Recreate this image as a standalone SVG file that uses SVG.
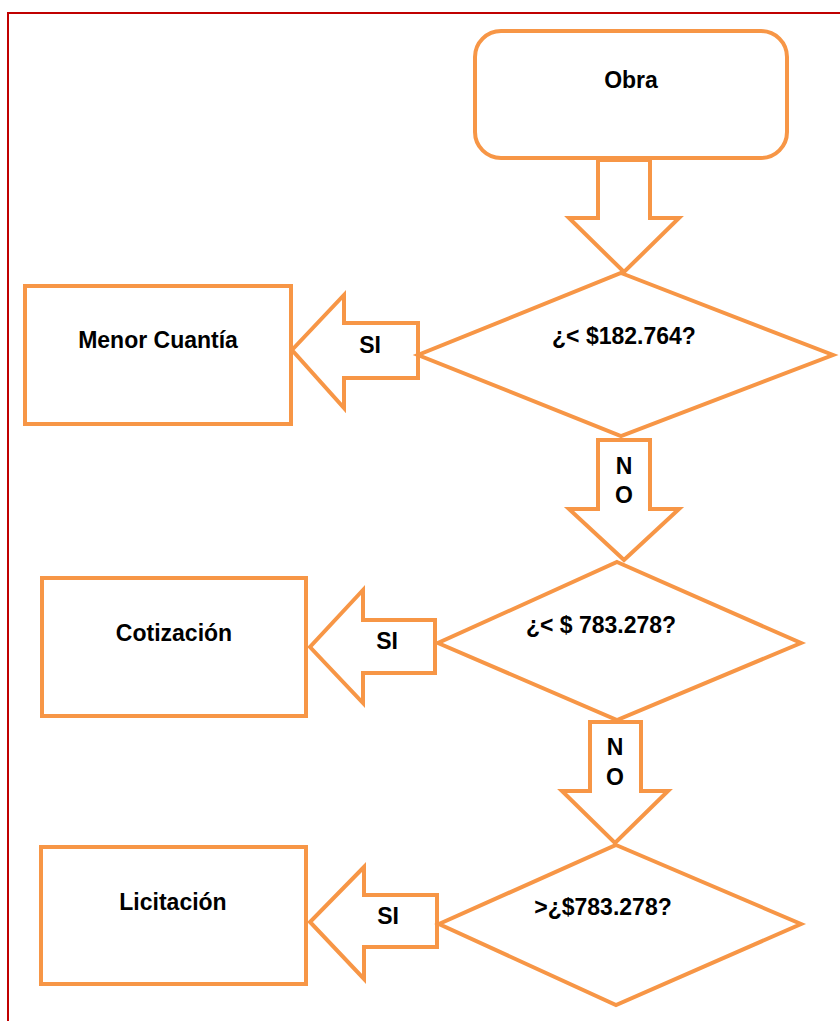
<svg xmlns="http://www.w3.org/2000/svg" width="840" height="1021" viewBox="0 0 840 1021">
  <style>
    .shape { fill: #ffffff; stroke: #f79646; stroke-width: 4; stroke-linejoin: miter; }
    .arrow { fill: #ffffff; stroke: #f79646; stroke-width: 4; stroke-linejoin: miter; stroke-miterlimit: 10; }
    .label { font-family: "Liberation Sans", Arial, sans-serif; font-weight: bold; font-size: 23px; fill: #000000; text-anchor: middle; }
  </style>
  <rect width="840" height="1021" fill="#ffffff"/>
  <!-- page frame -->
  <rect x="8" y="13" width="850" height="1030" fill="none" stroke="#c00000" stroke-width="2"/>

  <g id="connectors">
    <polygon class="arrow" points="598,160 650,160 650,218 679,218 624,272 569,218 598,218"/>
    <polygon class="arrow" points="418,323 344,323 344,295 292,350 344,408 344,378 418,378"/>
    <polygon class="arrow" points="598,440 650,440 650,509 679,509 624,560 569,509 598,509"/>
    <polygon class="arrow" points="435,620 363,620 363,590 310,647 363,703 363,673 435,673"/>
    <polygon class="arrow" points="590,722 641,722 641,791 668,791 615,843 562,791 590,791"/>
    <polygon class="arrow" points="437,895 364,895 364,867 310,922 364,979 364,947 437,947"/>
    <text class="label" x="370" y="353">SI</text>
    <text class="label" x="624" y="474">N</text>
    <text class="label" x="624" y="503">O</text>
    <text class="label" x="387" y="649">SI</text>
    <text class="label" x="615" y="755">N</text>
    <text class="label" x="615" y="785">O</text>
    <text class="label" x="388" y="924">SI</text>
  </g>

  <g id="obra">
    <rect class="shape" x="475" y="31" width="312" height="127" rx="26" ry="26"/>
    <text class="label" x="631" y="88">Obra</text>
  </g>

  <g id="decision-1">
    <polygon class="shape" points="621,273 833,355 621,436 418,355"/>
    <text class="label" x="624" y="344">¿&lt; $182.764?</text>
  </g>

  <g id="menor-cuantia">
    <rect class="shape" x="25" y="286" width="266" height="138"/>
    <text class="label" x="158" y="348">Menor Cuantía</text>
  </g>

  <g id="decision-2">
    <polygon class="shape" points="617,562 801,643 617,720 438,643"/>
    <text class="label" x="601" y="633">¿&lt; $ 783.278?</text>
  </g>

  <g id="cotizacion">
    <rect class="shape" x="42" y="578" width="264" height="138"/>
    <text class="label" x="174" y="641">Cotización</text>
  </g>

  <g id="decision-3">
    <polygon class="shape" points="616,845 801,924 616,1005 439,924"/>
    <text class="label" x="603" y="915">&gt;¿$783.278?</text>
  </g>

  <g id="licitacion">
    <rect class="shape" x="41" y="847" width="265" height="137"/>
    <text class="label" x="173" y="910">Licitación</text>
  </g>
</svg>
